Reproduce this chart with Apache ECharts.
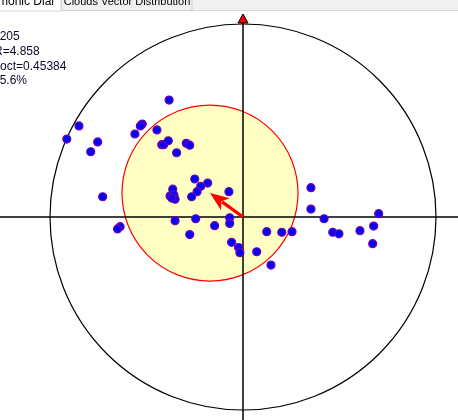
<!DOCTYPE html>
<html>
<head>
<meta charset="utf-8">
<script src="https://cdn.jsdelivr.net/npm/echarts@6/dist/echarts.min.js"></script>
<style>
  html, body { margin: 0; padding: 0; background: #fff; }
  #chart { width: 458px; height: 420px; }
</style>
</head>
<body>
<div id="chart"></div>
<script>
// dial radius in data units, the outer black circle
const dialRadius = 10;
// vector end points (harmonic dial)
const pointsX = [-3.83, -8.50, -9.13, -7.53, -7.89, -5.22, -5.32, -5.60, -4.46, -4.21, -4.11, -3.87, -2.94, -2.76, -3.44,
  -2.50, -1.83, -2.19, -2.38, -2.66, -0.73, -3.64, -3.78, -3.58, -3.52, -3.69, -7.27, -3.52, -2.45, -1.47, -0.69, -0.69,
  -2.76, -6.37, -6.50, -0.59, -0.23, -0.16, 0.71, 1.23, 2.01, 2.54, 1.45, 3.52, 3.52, 4.20, 4.65, 4.97, 6.06, 6.77, 7.03, 6.72];
const pointsY = [6.06, 4.72, 4.04, 3.89, 3.38, 4.82, 4.72, 4.30, 4.51, 3.75, 3.75, 3.95, 3.82, 3.72, 3.33,
  1.97, 1.76, 1.59, 1.31, 1.05, 1.31, 1.44, 1.09, 1.14, 0.92, 0.98, 1.05, -0.19, -0.09, -0.45, -0.04, -0.33,
  -0.91, -0.50, -0.62, -1.31, -1.58, -1.85, -1.80, -0.76, -0.79, -0.76, -2.49, 1.52, 0.41, -0.09, -0.79, -0.87, -0.71, -0.47, 0.17, -1.38];
// mean vector and its confidence circle
const meanX = -1.71;
const meanY = 1.24;
const meanRadius = 4.56;
// stats block at the upper left (partly cut off)
const statLines = ["n=205", "R=4.858", "Poct=0.45384", "35.6%"];
const tabNames = ["Harmonic Dial", "Clouds Vector Distribution"];

const chart = echarts.init(document.getElementById("chart"));

const xMin = -12.591, xMax = 11.140, yMin = -10.518, yMax = 11.244;

const points = pointsX.map((x, i) => [x, pointsY[i]]);

const statFont = "12px 'Liberation Sans', Arial, sans-serif";
const tabFont = "11px 'Liberation Sans', Arial, sans-serif";

const option = {
  animation: false,
  backgroundColor: "#fff",
  grid: { left: 0, right: 0, top: 0, bottom: 0 },
  xAxis: { type: "value", min: xMin, max: xMax, show: false },
  yAxis: { type: "value", min: yMin, max: yMax, show: false },
  series: [
    {
      // confidence circle + outer dial + crosshair
      type: "custom",
      silent: true,
      z: 1,
      data: [[0, 0]],
      renderItem: (params, api) => {
        const c = api.coord([0, 0]);
        const outer = api.size([dialRadius, dialRadius])[0];
        const m = api.coord([meanX, meanY]);
        const mr = api.size([meanRadius, meanRadius])[0];
        const left = api.coord([xMin, 0]);
        const right = api.coord([xMax, 0]);
        const bottom = api.coord([0, yMin]);
        const topY = c[1] - outer - 1;
        return {
          type: "group",
          children: [
            { type: "circle", shape: { cx: m[0], cy: m[1], r: mr },
              style: { fill: "#ffffc4", stroke: "#ff0000", lineWidth: 1.2 } },
            { type: "circle", shape: { cx: c[0], cy: c[1], r: outer },
              style: { fill: null, stroke: "#000", lineWidth: 1.2 } },
            { type: "line", shape: { x1: left[0], y1: c[1], x2: right[0], y2: c[1] },
              style: { stroke: "#000", lineWidth: 1.5 } },
            { type: "line", shape: { x1: c[0], y1: topY, x2: c[0], y2: bottom[1] },
              style: { stroke: "#000", lineWidth: 1.5 } },
            { type: "polygon", shape: { points: [[c[0] - 5, topY], [c[0] + 5, topY], [c[0], topY - 9]] },
              style: { fill: "#ff0000", stroke: "#000", lineWidth: 1 } }
          ]
        };
      }
    },
    {
      type: "scatter",
      z: 3,
      symbol: "circle",
      symbolSize: 8,
      itemStyle: { color: "#0000ff", borderColor: "#7a00a8", borderWidth: 1.2, opacity: 1 },
      data: points
    },
    {
      // mean vector arrow
      type: "custom",
      silent: true,
      z: 4,
      data: [[meanX, meanY]],
      renderItem: (params, api) => {
        const c = api.coord([0, 0]);
        const t = api.coord([api.value(0), api.value(1)]);
        const dx = t[0] - c[0], dy = t[1] - c[1];
        const len = Math.sqrt(dx * dx + dy * dy);
        const ux = dx / len, uy = dy / len;
        const hl = 19, hw = 7.5;
        const bx = t[0] - ux * hl, by = t[1] - uy * hl;
        return {
          type: "group",
          children: [
            { type: "line", shape: { x1: c[0], y1: c[1], x2: bx + ux * 4, y2: by + uy * 4 },
              style: { stroke: "#ff0000", lineWidth: 3.2 } },
            { type: "polygon",
              shape: { points: [[t[0], t[1]], [bx - uy * hw, by + ux * hw], [bx + ux * 5, by + uy * 5], [bx + uy * hw, by - ux * hw]] },
              style: { fill: "#ff0000" } }
          ]
        };
      }
    }
  ],
  graphic: [
    { type: "rect", shape: { x: 0, y: 0, width: 458, height: 11 }, style: { fill: "#f0f0f0" } },
    { type: "line", shape: { x1: 0, y1: 10.5, x2: 458, y2: 10.5 }, style: { stroke: "#dadada", lineWidth: 1 } },
    { type: "rect", shape: { x: -2, y: -2, width: 63, height: 13 }, style: { fill: "#fff", stroke: "#dadada", lineWidth: 1 } },
    { type: "rect", shape: { x: 61.5, y: -2, width: 130.5, height: 12.5 }, style: { fill: "#f0f0f0", stroke: "#d0d0d0", lineWidth: 1 } },
    { type: "text", x: 54, y: 2, style: { text: tabNames[0], align: "right", verticalAlign: "middle",
      font: "12px 'Liberation Sans', Arial, sans-serif", fill: "#000" } },
    { type: "text", x: 127, y: 2, style: { text: tabNames[1], align: "center", verticalAlign: "middle",
      font: tabFont, fill: "#000" } },
    { type: "text", x: -14, y: 37, style: { text: statLines[0], verticalAlign: "middle", font: statFont, fill: "#0a0a28" } },
    { type: "text", x: -6, y: 52, style: { text: statLines[1], verticalAlign: "middle", font: statFont, fill: "#0a0a28" } },
    { type: "text", x: -8, y: 67, style: { text: statLines[2], verticalAlign: "middle", font: statFont, fill: "#0a0a28" } },
    { type: "text", x: -7, y: 81, style: { text: statLines[3], verticalAlign: "middle", font: statFont, fill: "#0a0a28" } }
  ]
};

chart.setOption(option);
window.addEventListener("resize", () => chart.resize());
</script>
</body>
</html>
